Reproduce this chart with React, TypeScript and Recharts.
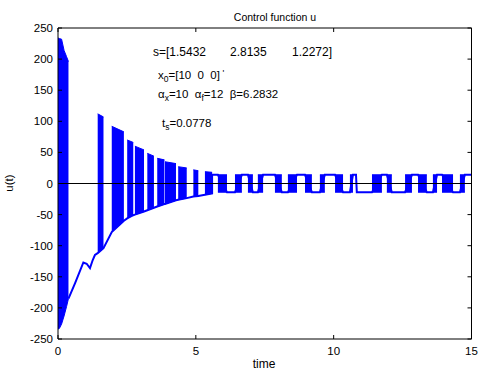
import React from 'react';
import { ComposedChart, Area, Line, XAxis, YAxis, ReferenceLine } from 'recharts';

// ---- axes ----
const xTicks = [0, 5, 10, 15];
const yTicks = [-250, -200, -150, -100, -50, 0, 50, 100, 150, 200, 250];

// ---- initial dense chattering block (envelope) ----
const earlyT = [0, 0.05, 0.13, 0.22, 0.31, 0.38];
const earlyHi = [234, 233, 232, 214, 204, 196];
const earlyLo = [-234, -233, -226, -213, -198, -185];

// ---- smooth (sliding) part ----
const slideT = [0.38, 0.62, 0.92, 1.04, 1.16, 1.26, 1.34, 1.44];
const slideU = [-185, -160, -127, -129, -136, -123, -115, -112];

// ---- decaying chattering bursts ----
const burstStart = [1.44, 1.95, 2.51, 2.79, 3.24, 3.6, 3.88, 4.36, 4.91, 5.33];
const burstEnd = [1.65, 2.39, 2.73, 3.12, 3.48, 3.86, 4.28, 4.67, 5.09, 5.59];
const burstHiStart = [112, 92, 70, 60, 48.5, 40.5, 35, 27, 22, 19];
const burstHiEnd = [107, 83, 66, 54, 44, 38, 32, 25, 20.5, 18];
const burstLoStart = [-112, -78, -56, -50, -43, -37, -33, -26, -21, -18];
const burstLoEnd = [-104, -60, -51, -45, -39, -33, -27, -23.5, -20, -16];

// ---- steady-state switching (H = high, L = low, C = chattering) ----
const lateHi = 14;
const lateLo = -14;
const lateEdges = [5.59, 5.8, 6.13, 6.42, 6.67, 6.89, 7.07, 7.25, 7.44, 7.87, 8.12, 8.34, 8.67, 8.96, 9.21, 9.5, 9.68, 10.05, 10.34, 10.59, 10.7, 10.81, 10.84, 11.39, 11.75, 11.93, 12.11, 12.59, 12.84, 13.06, 13.38, 13.6, 13.75, 13.93, 14.33, 14.58, 14.76, 15];
const lateKind = ['H', 'C', 'L', 'C', 'H', 'C', 'L', 'C', 'H', 'C', 'L', 'C', 'H', 'C', 'L', 'C', 'H', 'C', 'L', 'C', 'H', 'C', 'L', 'C', 'H', 'C', 'L', 'C', 'H', 'C', 'L', 'C', 'H', 'C', 'L', 'C', 'H'];

// ---- build series tables ----
type BandPt = { t: number; band: [number, number] };
const bands: BandPt[][] = [];
bands.push(earlyT.map((t, i) => ({ t, band: [earlyLo[i], earlyHi[i]] as [number, number] })));
burstStart.forEach((s, i) => {
  bands.push([
    { t: s, band: [burstLoStart[i], burstHiStart[i]] },
    { t: burstEnd[i], band: [burstLoEnd[i], burstHiEnd[i]] },
  ]);
});
lateKind.forEach((k, i) => {
  if (k === 'C') {
    bands.push([
      { t: lateEdges[i], band: [lateLo, lateHi] },
      { t: lateEdges[i + 1], band: [lateLo, lateHi] },
    ]);
  }
});

const lineData: { t: number; u: number }[] = [];
slideT.forEach((t, i) => lineData.push({ t, u: slideU[i] }));
burstStart.forEach((s, i) => {
  lineData.push({ t: s, u: burstLoStart[i] });
  lineData.push({ t: burstEnd[i], u: burstLoEnd[i] });
});
lateKind.forEach((k, i) => {
  if (k === 'H' || k === 'L') {
    const v = k === 'H' ? lateHi : lateLo;
    lineData.push({ t: lateEdges[i], u: v });
    lineData.push({ t: lateEdges[i + 1], u: v });
  }
});

const FONT = '"Liberation Sans", Arial, Helvetica, sans-serif';
const BLUE = '#0000ff';

const LeftTick = (p: any) => (
  <g>
    <line x1={p.x} x2={p.x + 4} y1={p.y} y2={p.y} stroke="#000" />
    <text x={p.x - 5} y={p.y} dy={4} textAnchor="end" fontSize={11.5} fontFamily={FONT} fill="#000">
      {p.payload.value}
    </text>
  </g>
);
const RightTick = (p: any) => (
  <line x1={p.x} x2={p.x - 4} y1={p.y} y2={p.y} stroke="#000" />
);
const BottomTick = (p: any) => (
  <g>
    <line x1={p.x} x2={p.x} y1={p.y} y2={p.y - 4} stroke="#000" />
    <text x={p.x} y={p.y + 12} dy={4} textAnchor="middle" fontSize={11.5} fontFamily={FONT} fill="#000">
      {p.payload.value}
    </text>
  </g>
);
const TopTick = (p: any) => (
  <line x1={p.x} x2={p.x} y1={p.y} y2={p.y + 4} stroke="#000" />
);

export default function App() {
  return (
    <div style={{ position: 'absolute', left: 0, top: 0, width: 481, height: 371, background: '#fff' }}>
      <ComposedChart width={481} height={371} margin={{ top: 27, right: 8.5, bottom: 0, left: 0 }}>
        <XAxis
          xAxisId="b"
          dataKey="t"
          type="number"
          domain={[0, 15]}
          ticks={xTicks}
          allowDataOverflow
          height={32}
          tickSize={0}
          tickMargin={0}
          tick={<BottomTick />}
          axisLine={{ stroke: '#000' }}
          tickLine={false}
          interval={0}
        />
        <XAxis
          xAxisId="top"
          orientation="top"
          dataKey="t"
          type="number"
          domain={[0, 15]}
          ticks={xTicks}
          allowDataOverflow
          height={1}
          tickSize={0}
          tickMargin={0}
          tick={<TopTick />}
          axisLine={{ stroke: '#000' }}
          tickLine={false}
          interval={0}
        />
        <YAxis
          yAxisId="l"
          type="number"
          domain={[-250, 250]}
          ticks={yTicks}
          allowDataOverflow
          width={58}
          tickSize={0}
          tickMargin={0}
          tick={<LeftTick />}
          axisLine={{ stroke: '#000' }}
          tickLine={false}
          interval={0}
        />
        <YAxis
          yAxisId="r"
          orientation="right"
          type="number"
          domain={[-250, 250]}
          ticks={yTicks}
          allowDataOverflow
          width={1}
          tickSize={0}
          tickMargin={0}
          tick={<RightTick />}
          axisLine={{ stroke: '#000' }}
          tickLine={false}
          interval={0}
        />
        {bands.map((d, i) => (
          <Area
            key={'b' + i}
            xAxisId="b"
            yAxisId="l"
            data={d}
            dataKey="band"
            type="linear"
            stroke={BLUE}
            strokeWidth={1}
            fill={BLUE}
            fillOpacity={1}
            isAnimationActive={false}
            dot={false}
            activeDot={false}
          />
        ))}
        <Line
          xAxisId="top"
          yAxisId="r"
          data={lineData}
          dataKey="u"
          type="linear"
          stroke={BLUE}
          strokeWidth={2}
          dot={false}
          activeDot={false}
          isAnimationActive={false}
        />
        <ReferenceLine xAxisId="b" yAxisId="l" y={0} stroke="#000" strokeWidth={1} />
      </ComposedChart>
      <svg
        width={481}
        height={371}
        style={{ position: 'absolute', left: 0, top: 0, pointerEvents: 'none' }}
        fontFamily={FONT}
        fill="#000"
      >
        <text x={275} y={21} textAnchor="middle" fontSize={10.5}>Control function u</text>
        <text x={264} y={368} textAnchor="middle" fontSize={12}>time</text>
        <text x={13} y={183} textAnchor="middle" fontSize={11.5} transform="rotate(-90 13 183)">u(t)</text>

        <text fontSize={12} y={56}>
          <tspan x={153}>s=[1.5432</tspan>
          <tspan x={230}>2.8135</tspan>
          <tspan x={292}>1.2272]</tspan>
        </text>
        <text fontSize={11.5} y={79} xmlSpace="preserve">
          <tspan x={158}>x</tspan>
          <tspan fontSize={8.5} dy={3}>0</tspan>
          <tspan dy={-3}>{'=[10  0  0]'}</tspan>
          <tspan dy={-3} fontSize={9}>{' \''}</tspan>
        </text>
        <text fontSize={11.5} y={98} xmlSpace="preserve">
          <tspan x={158}>α</tspan>
          <tspan fontSize={8.5} dy={3}>x</tspan>
          <tspan dy={-3}>{'=10  α'}</tspan>
          <tspan fontSize={8.5} dy={3}>f</tspan>
          <tspan dy={-3}>{'=12  β=6.2832'}</tspan>
        </text>
        <text fontSize={11.5} y={127}>
          <tspan x={162}>t</tspan>
          <tspan fontSize={8.5} dy={3}>s</tspan>
          <tspan dy={-3}>=0.0778</tspan>
        </text>
      </svg>
    </div>
  );
}
